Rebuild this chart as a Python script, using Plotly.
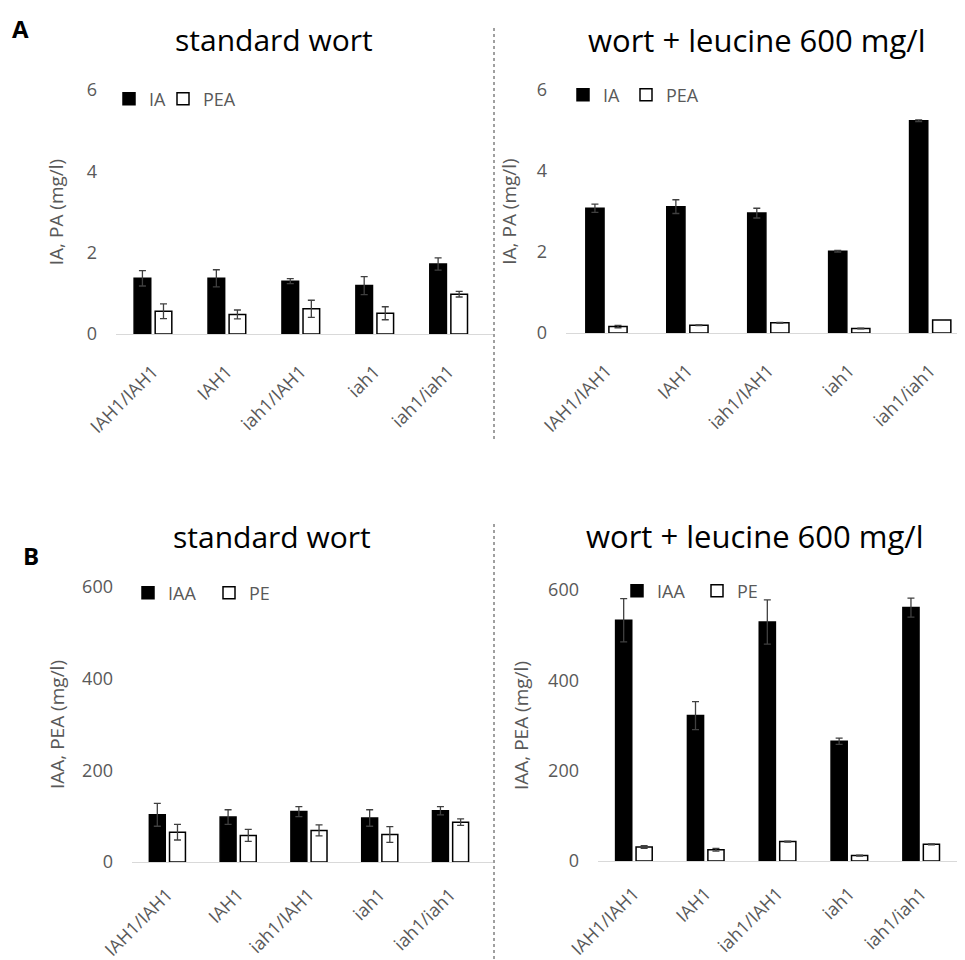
import plotly.graph_objects as go

# page body has an 8px margin; figure is sized/offset so that it lands on the 965x960 frame
OFF = 8
W, H = 965 - OFF, 960 - OFF

categories = ["IAH1/IAH1", "IAH1", "iah1/IAH1", "iah1", "iah1/iah1"]

# Panel A - standard wort
a_std_ia = [1.37, 1.37, 1.30, 1.19, 1.72]
a_std_ia_err = [0.19, 0.21, 0.06, 0.22, 0.15]
a_std_pea = [0.56, 0.48, 0.62, 0.51, 0.98]
a_std_pea_err = [0.18, 0.11, 0.21, 0.16, 0.07]
# Panel A - wort + leucine
a_leu_ia = [3.08, 3.12, 2.96, 2.02, 5.24]
a_leu_ia_err = [0.10, 0.17, 0.12, 0.02, 0.02]
a_leu_pea = [0.16, 0.19, 0.25, 0.11, 0.32]
a_leu_pea_err = [0.03, 0.01, 0.01, 0.01, 0.01]
# Panel B - standard wort
b_std_iaa = [103, 98, 110, 96, 112]
b_std_iaa_err = [25, 16, 11, 18, 9]
b_std_pe = [65, 58, 69, 60, 87]
b_std_pe_err = [17, 13, 12, 17, 7]
# Panel B - wort + leucine
b_leu_iaa = [533, 322, 529, 265, 561]
b_leu_iaa_err = [48, 31, 49, 7, 21]
b_leu_pe = [31, 25, 43, 12, 37]
b_leu_pe_err = [3, 3, 1, 1, 1]

panel_titles = ["standard wort", "wort + leucine 600 mg/l"]
y_titles = ["IA, PA (mg/l)", "IAA, PEA (mg/l)"]
y_ticks_a = [0, 2, 4, 6]
y_ticks_b = [0, 200, 400, 600]

FONT = "Open Sans"
GRAY = "#595959"
ERRC = "#404040"

def px_x(x):
    return (x - OFF) / W

def px_y(y):
    return 1 - (y - OFF) / H

fig = go.Figure()

panels = [
    # (vals1, err1, vals2, err2, name1, name2, axis suffix, legend ids)
    (a_std_ia, a_std_ia_err, a_std_pea, a_std_pea_err, "IA", "PEA", "", ("legend", "legend2")),
    (a_leu_ia, a_leu_ia_err, a_leu_pea, a_leu_pea_err, "IA", "PEA", "2", ("legend3", "legend4")),
    (b_std_iaa, b_std_iaa_err, b_std_pe, b_std_pe_err, "IAA", "PE", "3", ("legend5", "legend6")),
    (b_leu_iaa, b_leu_iaa_err, b_leu_pe, b_leu_pe_err, "IAA", "PE", "4", ("legend7", "legend8")),
]

for v1, e1, v2, e2, n1, n2, sfx, lg in panels:
    fig.add_trace(go.Bar(
        x=categories, y=v1, name=n1, legend=lg[0],
        xaxis="x" + sfx, yaxis="y" + sfx,
        width=0.225, offset=-0.255,
        marker=dict(color="black", line=dict(color="black", width=1.5)),
        error_y=dict(type="data", array=e1, visible=True, color=ERRC, thickness=1.3, width=3.5),
    ))
    fig.add_trace(go.Bar(
        x=categories, y=v2, name=n2, legend=lg[1],
        xaxis="x" + sfx, yaxis="y" + sfx,
        width=0.225, offset=0.03,
        marker=dict(color="white", line=dict(color="black", width=1.5)),
        error_y=dict(type="data", array=e2, visible=True, color=ERRC, thickness=1.3, width=3.5),
    ))

# axis geometry (target pixels on the 965x960 frame)
geo = {
    "": dict(x0=116, x1=493, xr=[-0.5, 4.6], y0=334, y6=90, yr=[0, 6], ticks=y_ticks_a, title=y_titles[0], standoff=18, xso=19),
    "2": dict(x0=566, x1=965, xr=[-0.5, 4.43], y0=333, y6=90, yr=[0, 6], ticks=y_ticks_a, title=y_titles[0], standoff=15, xso=19),
    "3": dict(x0=132, x1=493, xr=[-0.5, 4.6], y0=862, y6=587, yr=[0, 600], ticks=y_ticks_b, title=y_titles[1], standoff=12, xso=14),
    "4": dict(x0=598, x1=965, xr=[-0.5, 4.61], y0=861, y6=590, yr=[0, 600], ticks=y_ticks_b, title=y_titles[1], standoff=14, xso=14),
}

layout = dict(
    width=W, height=H,
    margin=dict(l=0, r=0, t=0, b=0, autoexpand=False),
    paper_bgcolor="white", plot_bgcolor="white",
    font=dict(family=FONT, color=GRAY, size=18),
    barmode="overlay",
    showlegend=True,
)

for sfx, g in geo.items():
    xa = "xaxis" + sfx
    ya = "yaxis" + sfx
    layout[xa] = dict(
        domain=[max(0, px_x(g["x0"])), min(1, px_x(g["x1"]))],
        anchor="y" + sfx,
        type="category",
        range=g["xr"],
        automargin=False,
        showline=True, linecolor="#d9d9d9", linewidth=1.2,
        showgrid=False, zeroline=False, ticks="",
        tickangle=-45,
        ticklabelstandoff=g["xso"],
        tickfont=dict(family=FONT, size=18, color=GRAY),
    )
    layout[ya] = dict(
        domain=[px_y(g["y0"]), px_y(g["y6"])],
        anchor="x" + sfx,
        range=g["yr"],
        tickvals=g["ticks"],
        automargin=False,
        showline=False, showgrid=False, zeroline=False, ticks="",
        ticklabelstandoff=18,
        tickfont=dict(family=FONT, size=18, color=GRAY),
        title=dict(text=g["title"], font=dict(family=FONT, size=19, color=GRAY), standoff=g["standoff"]),
    )

leg_common = dict(orientation="h", xanchor="left", yanchor="middle",
                  bgcolor="rgba(0,0,0,0)", borderwidth=0,
                  font=dict(family=FONT, size=18, color=GRAY),
                  itemwidth=30)
leg_pos = [
    ("legend", 128, 99), ("legend2", 182, 99),
    ("legend3", 582, 95), ("legend4", 645, 95),
    ("legend5", 147, 593), ("legend6", 228, 593),
    ("legend7", 636, 591), ("legend8", 716, 591),
]
for name, icon_left, yc in leg_pos:
    layout[name] = dict(leg_common, x=px_x(icon_left - 19), y=px_y(yc))

fig.update_layout(**layout)

annotations = [
    dict(text="<b>A</b>", x=px_x(20), y=px_y(28), font=dict(family=FONT, size=24, color="black")),
    dict(text="<b>B</b>", x=px_x(31), y=px_y(555), font=dict(family=FONT, size=24, color="black")),
    dict(text=panel_titles[0], x=px_x(274), y=px_y(40), font=dict(family=FONT, size=30, color="black")),
    dict(text=panel_titles[1], x=px_x(757), y=px_y(40), font=dict(family=FONT, size=31, color="black")),
    dict(text=panel_titles[0], x=px_x(272), y=px_y(536), font=dict(family=FONT, size=30, color="black")),
    dict(text=panel_titles[1], x=px_x(755), y=px_y(536), font=dict(family=FONT, size=31, color="black")),
]
for a in annotations:
    a.update(xref="paper", yref="paper", xanchor="center", yanchor="middle", showarrow=False)
fig.update_layout(annotations=annotations)

shapes = [
    dict(type="line", xref="paper", yref="paper", x0=px_x(494), x1=px_x(494), y0=px_y(28), y1=px_y(440),
         line=dict(color="#404040", width=1, dash="dot")),
    dict(type="line", xref="paper", yref="paper", x0=px_x(494), x1=px_x(494), y0=px_y(524), y1=px_y(960),
         line=dict(color="#404040", width=1, dash="dot")),
]
fig.update_layout(shapes=shapes)

fig.write_html("out.html")
